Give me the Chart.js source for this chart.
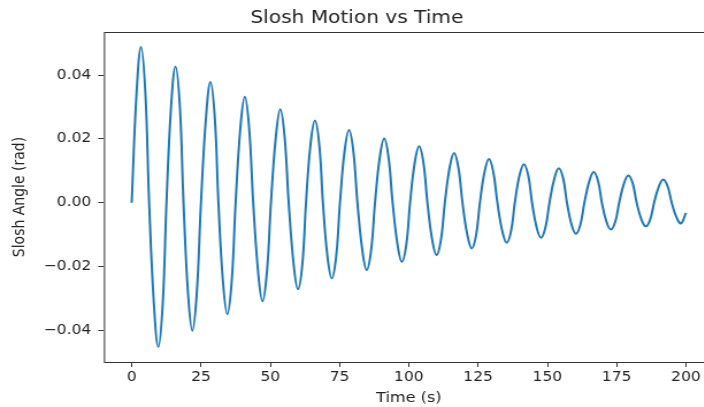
<!DOCTYPE html>
<html>
<head>
<meta charset="utf-8">
<script src="https://cdn.jsdelivr.net/npm/chart.js@4/dist/chart.umd.min.js"></script>
<style>
  html, body { margin: 0; padding: 0; background: #fff; overflow: hidden; }
  #wrap { width: 704px; height: 407px; overflow: hidden; }
  /* the reference picture is a bit wider than tall, stretch the same way */
  #myCourbe { transform: scaleX(1.15); transform-origin: 0 0; }
</style>
</head>
<body>
<div id="wrap"><canvas id="myCourbe" width="626" height="407"></canvas></div>
<script>
// values, one row per cycle:
// zero, rising, peak, falling, zero, falling, trough, rising
const timeS = [
  0, 1.75, 3.35, 4.95, 6.3, 8.0, 9.6, 11.2,
  12.55, 14.2, 15.8, 17.4, 18.7, 20.3, 21.9, 23.5,
  25.0, 26.8, 28.4, 30.0, 31.3, 32.9, 34.5, 36.1,
  37.5, 39.2, 40.8, 42.4, 43.85, 45.6, 47.2, 48.8,
  50.25, 52.0, 53.6, 55.2, 56.65, 58.4, 60.0, 61.6,
  62.9, 64.5, 66.1, 67.7, 69.0, 70.6, 72.2, 73.8,
  75.15, 76.8, 78.4, 80.0, 81.45, 83.2, 84.8, 86.4,
  87.8, 89.5, 91.1, 92.7, 94.15, 95.9, 97.5, 99.1,
  100.45, 102.1, 103.7, 105.3, 106.7, 108.4, 110.0, 111.6,
  113.0, 114.7, 116.3, 117.9, 119.35, 121.1, 122.7, 124.3,
  125.65, 127.3, 128.9, 130.5, 131.95, 133.7, 135.3, 136.9,
  138.25, 139.9, 141.5, 143.1, 144.45, 146.1, 147.7, 149.3,
  150.75, 152.5, 154.1, 155.7, 157.05, 158.7, 160.3, 161.9,
  163.35, 165.1, 166.7, 168.3, 169.65, 171.3, 172.9, 174.5,
  175.9, 177.6, 179.2, 180.8, 182.2, 183.9, 185.5, 187.1,
  188.5, 190.2, 191.8, 193.4, 194.85, 196.6, 198.2, 200
];
const sloshAngle = [
  0, 0.0342, 0.0488, 0.0342, 0, -0.0316, -0.0452, -0.0316,
  0, 0.0299, 0.0427, 0.0299, 0, -0.0281, -0.0401, -0.0281,
  0, 0.0265, 0.0378, 0.0265, 0, -0.0244, -0.0349, -0.0244,
  0, 0.0232, 0.0332, 0.0232, 0, -0.0216, -0.0309, -0.0216,
  0, 0.0205, 0.0293, 0.0205, 0, -0.0190, -0.0271, -0.0190,
  0, 0.0181, 0.0258, 0.0181, 0, -0.0166, -0.0237, -0.0166,
  0, 0.0160, 0.0228, 0.0160, 0, -0.0148, -0.0211, -0.0148,
  0, 0.0141, 0.0201, 0.0141, 0, -0.0130, -0.0185, -0.0130,
  0, 0.0124, 0.0177, 0.0124, 0, -0.0115, -0.0164, -0.0115,
  0, 0.0109, 0.0156, 0.0109, 0, -0.0100, -0.0143, -0.0100,
  0, 0.0096, 0.0137, 0.0096, 0, -0.0088, -0.0125, -0.0088,
  0, 0.0085, 0.0121, 0.0085, 0, -0.0077, -0.0110, -0.0077,
  0, 0.0076, 0.0108, 0.0076, 0, -0.0068, -0.0097, -0.0068,
  0, 0.0067, 0.0096, 0.0067, 0, -0.0059, -0.0084, -0.0059,
  0, 0.0060, 0.0085, 0.0060, 0, -0.0052, -0.0074, -0.0052,
  0, 0.0051, 0.0073, 0.0051, 0, -0.0046, -0.0065, -0.0032
];
const xTicks = [0, 25, 50, 75, 100, 125, 150, 175, 200];
const yTicks = [-0.04, -0.02, 0, 0.02, 0.04];

const fontFam = "'DejaVu Sans', sans-serif";
const inkColor = '#333333';

// frame around the plot area (matplotlib spines)
const framePlugin = {
  id: 'frame',
  afterDraw(chart) {
    const a = chart.chartArea, ctx = chart.ctx;
    ctx.save();
    ctx.strokeStyle = inkColor;
    ctx.lineWidth = 1;
    ctx.strokeRect(a.left + 0.5, a.top + 0.5, a.right - a.left, a.bottom - a.top);
    ctx.restore();
  }
};

const points = timeS.map((t, i) => ({ x: t, y: sloshAngle[i] }));

new Chart(document.getElementById('myCourbe'), {
  type: 'line',
  data: {
    datasets: [{
      data: points,
      borderColor: '#1f77b4',
      borderWidth: 2,
      pointRadius: 0,
      tension: 0.4,
      fill: false
    }]
  },
  options: {
    responsive: false,
    animation: false,
    layout: { padding: { left: 0, right: 5.4, top: 0, bottom: 0 } },
    plugins: {
      legend: { display: false },
      tooltip: { enabled: false },
      title: {
        display: true,
        text: 'Slosh Motion vs Time',
        color: '#222',
        font: { family: fontFam, size: 17.5, weight: 'normal' },
        padding: { top: 7.5, bottom: 3.5 }
      }
    },
    scales: {
      x: {
        type: 'linear',
        min: -10,
        max: 210,
        afterBuildTicks: s => { s.ticks = xTicks.map(v => ({ value: v })); },
        afterFit: s => { s.height = 45; },
        grid: { drawOnChartArea: false, drawTicks: true, tickLength: 5, tickColor: inkColor },
        border: { display: false },
        ticks: {
          color: '#222',
          padding: 2,
          maxRotation: 0,
          font: { family: fontFam, size: 13.5 },
          callback: v => String(v)
        },
        title: {
          display: true,
          text: 'Time (s)',
          color: '#222',
          font: { family: fontFam, size: 14 },
          padding: { top: 0, bottom: 0 }
        }
      },
      y: {
        min: -0.0499,
        max: 0.0535,
        afterBuildTicks: s => { s.ticks = yTicks.map(v => ({ value: v })); },
        afterFit: s => { s.width = 90.4; },
        grid: { drawOnChartArea: false, drawTicks: true, tickLength: 5, tickColor: inkColor },
        border: { display: false },
        ticks: {
          color: '#222',
          padding: 6,
          font: { family: fontFam, size: 13.5 },
          callback: v => v.toFixed(2).replace('-', '\u2212')
        },
        title: {
          display: true,
          text: 'Slosh Angle (rad)',
          color: '#222',
          font: { family: fontFam, size: 14 },
          padding: { top: 9, bottom: 0 }
        }
      }
    }
  },
  plugins: [framePlugin]
});
</script>
</body>
</html>
